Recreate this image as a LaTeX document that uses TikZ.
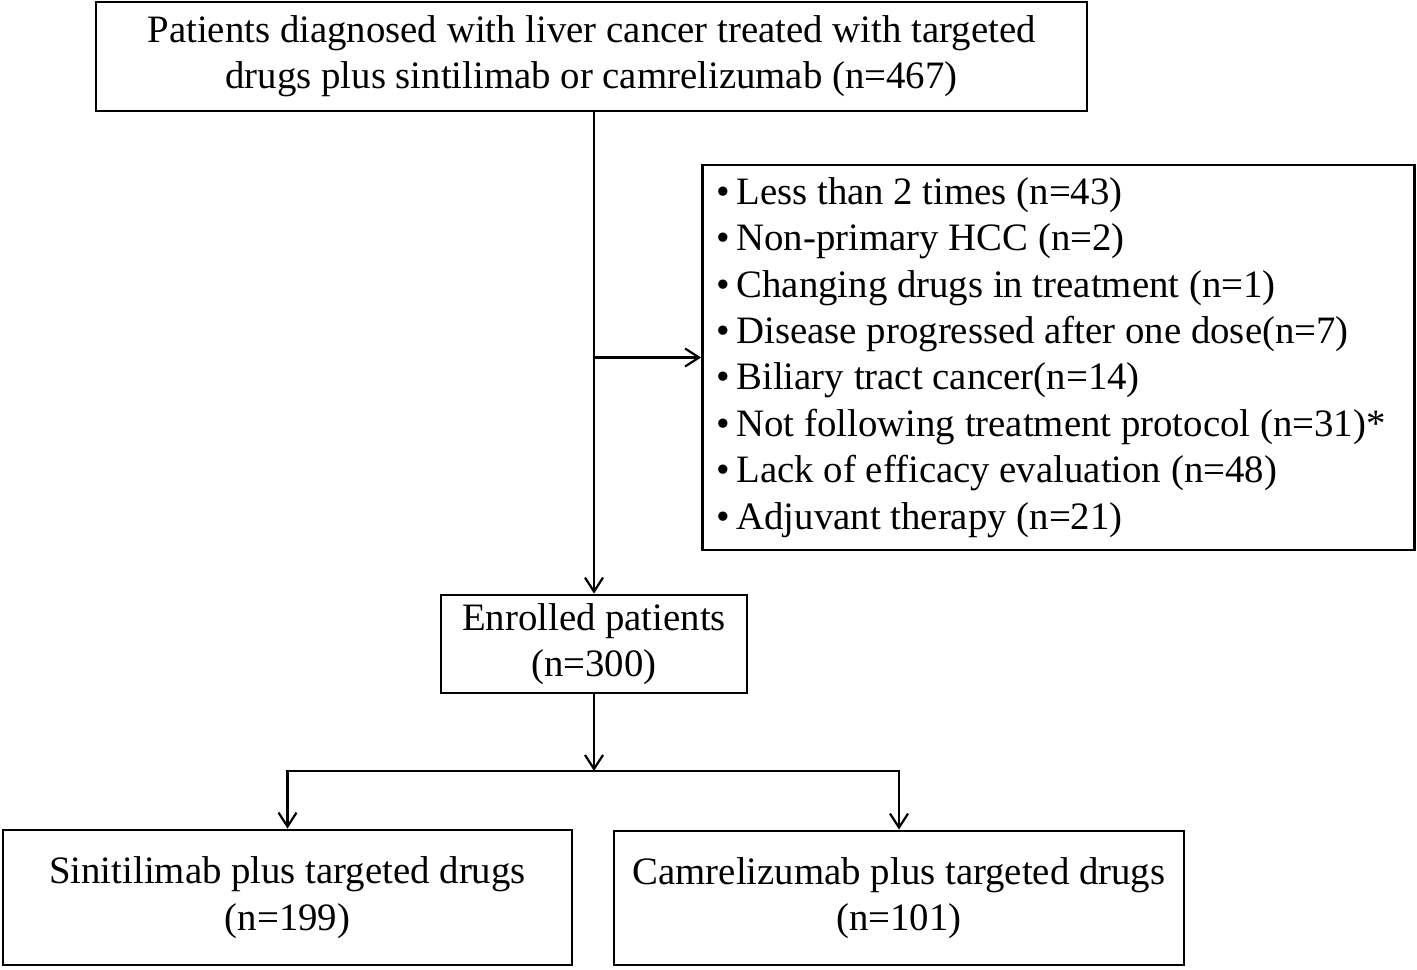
\documentclass[tikz,border=0pt]{standalone}
\usepackage{fontspec}
\setmainfont{Liberation Serif}
\usetikzlibrary{arrows.meta, positioning}

\begin{document}
\begin{tikzpicture}
  [x=0.5pt, y=-0.5pt,
   box/.style={draw, line width=1.4pt, align=center, inner sep=0pt,
     font=\fontsize{19.4}{23.2}\selectfont},
   flow/.style={line width=1.4pt, -{Straight Barb[length=7pt,width=9pt,line width=1.1pt]}}]
  \useasboundingbox (0,0) rectangle (1417,969);

  \node [box, minimum width=495.5pt, minimum height=54.5pt] (top) at (591.5,56.5)
    {Patients diagnosed with liver cancer treated with targeted\\
     drugs plus sintilimab or camrelizumab (n=467)};

  \node [box, minimum width=354.5pt, minimum height=192.5pt, align=flush left,
         text width=342pt, inner xsep=7pt] (excl) at (1058.5,357.5)
    {\spaceskip=0pt \xspaceskip=0pt
     \textbullet\,Less than 2 times (n=43)\\
     \textbullet\,Non-primary HCC (n=2)\\
     \textbullet\,Changing drugs in treatment (n=1)\\
     \textbullet\,Disease progressed after one dose(n=7)\\
     \textbullet\,Biliary tract cancer(n=14)\\
     \textbullet\,Not following treatment protocol (n=31)*\\
     \textbullet\,Lack of efficacy evaluation (n=48)\\
     \textbullet\,Adjuvant therapy (n=21)};

  \node [box, minimum width=153pt, minimum height=49pt] (enrol) at (594,644)
    {Enrolled patients\\(n=300)};

  \node [box, minimum width=284.5pt, minimum height=67.5pt] (sinti) at (287.5,897.5)
    {Sinitilimab plus targeted drugs\\(n=199)};
  \node [box, minimum width=285pt, minimum height=67pt] (camre) at (899,898)
    {Camrelizumab plus targeted drugs\\(n=101)};

  % exclusion branch
  \coordinate (split) at (enrol.north |- excl.west);
  \draw [flow] (top.south -| enrol.north) -- (enrol.north);
  \draw [flow] (split) -- (excl.west);

  % two treatment groups
  \coordinate (fork) at (594,771);
  \draw [flow] (enrol.south) -- (fork);
  \foreach \grp in {sinti,camre}{
    \draw [flow] (fork) -| (\grp.north);
    };
\end{tikzpicture}
\end{document}
